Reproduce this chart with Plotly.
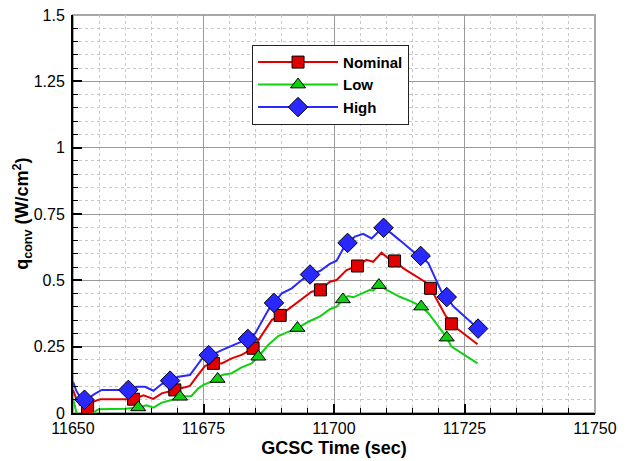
import plotly.graph_objects as go

# ---------------- data ----------------
blue_x = [11650.0, 11650.6, 11651.3, 11652.2, 11653.0, 11654.0, 11655.5, 11660.6, 11662.2, 11663.8,
          11665.4, 11667.0, 11668.6, 11670.2, 11672.4, 11674.0, 11674.6, 11676.0, 11677.2, 11678.5,
          11680.4, 11681.7, 11683.5, 11684.9, 11686.2, 11687.4, 11688.5, 11690.0, 11691.9, 11693.8,
          11695.4, 11697.3, 11699.2, 11700.5, 11701.8, 11702.6, 11704.0, 11705.6, 11707.2, 11708.5,
          11709.5, 11711.0, 11713.3, 11715.2, 11716.6, 11718.1, 11719.7, 11720.6, 11721.6, 11722.9,
          11725.4, 11727.6]
blue_y = [0.118, 0.085, 0.061, 0.050, 0.055, 0.070, 0.087, 0.087, 0.099, 0.099,
          0.084, 0.109, 0.122, 0.137, 0.143, 0.187, 0.202, 0.218, 0.225, 0.237,
          0.253, 0.265, 0.279, 0.300, 0.344, 0.388, 0.415, 0.451, 0.470, 0.501,
          0.522, 0.535, 0.562, 0.574, 0.621, 0.641, 0.665, 0.675, 0.658, 0.683,
          0.698, 0.677, 0.640, 0.608, 0.592, 0.564, 0.495, 0.457, 0.437, 0.401,
          0.357, 0.318]
blue_mx = [11652.2, 11660.6, 11668.6, 11676.0, 11683.5, 11688.5, 11695.4, 11702.6, 11709.5, 11716.6, 11721.6, 11727.6]
blue_my = [0.050, 0.087, 0.122, 0.218, 0.279, 0.415, 0.522, 0.641, 0.698, 0.592, 0.437, 0.318]

red_x = [11650.0, 11650.6, 11651.3, 11652.8, 11653.9, 11655.2, 11661.6, 11663.5, 11665.4, 11667.0,
         11669.5, 11672.4, 11673.7, 11675.3, 11676.9, 11678.5, 11680.4, 11682.3, 11684.5, 11686.2,
         11688.1, 11689.7, 11691.9, 11693.8, 11695.7, 11697.4, 11699.2, 11700.5, 11702.4, 11704.5,
         11706.2, 11707.5, 11709.1, 11710.4, 11711.6, 11713.3, 11715.8, 11717.4, 11718.5, 11719.7,
         11721.3, 11722.5, 11723.8, 11727.5]
red_y = [0.087, 0.055, 0.030, 0.020, 0.043, 0.052, 0.052, 0.067, 0.053, 0.074,
         0.087, 0.102, 0.137, 0.178, 0.187, 0.187, 0.206, 0.219, 0.244, 0.294,
         0.351, 0.368, 0.401, 0.426, 0.457, 0.464, 0.495, 0.501, 0.539, 0.554,
         0.577, 0.570, 0.604, 0.583, 0.573, 0.545, 0.514, 0.495, 0.470, 0.426,
         0.369, 0.336, 0.315, 0.259]
red_mx = [11652.8, 11661.6, 11669.5, 11676.9, 11684.5, 11689.7, 11697.4, 11704.5, 11711.6, 11718.5, 11722.5]
red_my = [0.020, 0.052, 0.087, 0.187, 0.244, 0.368, 0.464, 0.554, 0.573, 0.470, 0.336]

green_x = [11650.0, 11650.4, 11650.8, 11651.5, 11653.5, 11654.5, 11654.9, 11660.0, 11662.5, 11664.1,
           11665.4, 11667.0, 11668.9, 11670.5, 11672.7, 11674.0, 11675.0, 11677.7, 11678.5, 11680.4,
           11682.3, 11684.2, 11685.5, 11687.4, 11689.3, 11690.9, 11693.0, 11695.1, 11697.4, 11699.2,
           11700.5, 11701.7, 11702.7, 11703.7, 11705.6, 11706.9, 11707.5, 11708.6, 11710.1, 11712.6,
           11714.9, 11716.7, 11718.1, 11719.3, 11720.6, 11721.6, 11722.5, 11727.5]
green_y = [0.055, 0.020, -0.010, -0.030, -0.010, 0.010, 0.014, 0.016, 0.021, 0.029,
           0.020, 0.039, 0.049, 0.061, 0.064, 0.093, 0.106, 0.128, 0.143, 0.150,
           0.172, 0.187, 0.212, 0.256, 0.290, 0.303, 0.320, 0.344, 0.365, 0.391,
           0.401, 0.428, 0.441, 0.436, 0.453, 0.464, 0.461, 0.482, 0.464, 0.438,
           0.420, 0.401, 0.376, 0.344, 0.306, 0.284, 0.250, 0.187]
green_mx = [11662.5, 11670.5, 11677.7, 11685.5, 11693.0, 11701.7, 11708.6, 11716.7, 11721.6]
green_my = [0.021, 0.061, 0.128, 0.212, 0.320, 0.428, 0.482, 0.401, 0.284]

series_names = ["Nominal", "Low", "High"]
x_ticks = [11650, 11675, 11700, 11725, 11750]
y_ticks = [0, 0.25, 0.5, 0.75, 1, 1.25, 1.5]
y_ticktext = ["0", "0.25", "0.5", "0.75", "1", "1.25", "1.5"]

FONT = "Liberation Sans, Arial, sans-serif"
RED, GREEN, BLUE = "#E00000", "#10D010", "#2828FF"

fig = go.Figure()

specs = [
    (series_names[0], red_x, red_y, red_mx, red_my, RED, "square", 12),
    (series_names[1], green_x, green_y, green_mx, green_my, GREEN, "triangle-up", 13),
    (series_names[2], blue_x, blue_y, blue_mx, blue_my, BLUE, "diamond", 15),
]
for name, lx, ly, mx, my, col, sym, sz in specs:
    fig.add_trace(go.Scatter(x=lx, y=ly, mode="lines", line=dict(color=col, width=2),
                             showlegend=False, hoverinfo="skip", cliponaxis=True))
    fig.add_trace(go.Scatter(x=mx, y=my, mode="markers", showlegend=False,
                             marker=dict(symbol=sym, size=sz, color=col,
                                         line=dict(color="black", width=1)),
                             cliponaxis=False))
# legend entries
for name, lx, ly, mx, my, col, sym, sz in specs:
    fig.add_trace(go.Scatter(x=[None], y=[None], mode="lines+markers", name=name,
                             line=dict(color=col, width=2),
                             marker=dict(symbol=sym, size=sz, color=col,
                                         line=dict(color="black", width=1))))

fig.update_layout(
    width=627, height=461,
    margin=dict(l=73, r=32, t=15, b=48),
    paper_bgcolor="white", plot_bgcolor="white",
    font=dict(family=FONT, color="black", size=15),
    showlegend=True,
    legend=dict(x=0.343, y=0.925, xanchor="left", yanchor="top",
                bgcolor="white", bordercolor="#222222", borderwidth=1,
                font=dict(family=FONT, size=15, weight="bold", color="black"),
                itemwidth=80, tracegroupgap=0),
    xaxis=dict(range=[11650, 11750], tickvals=x_ticks, tickformat="d", automargin=False,
               showline=True, linecolor="black", linewidth=2,
               ticks="inside", ticklen=9, tickwidth=2, tickcolor="black",
               showgrid=True, gridcolor="#9a9a9a", gridwidth=1, zeroline=False,
               tickfont=dict(size=16), ticklabelstandoff=0,
               minor=dict(dtick=5, showgrid=True, gridcolor="#c8c8c8", griddash="dot",
                          ticks="inside", ticklen=5, tickcolor="black", tickwidth=1),
               title=dict(text="GCSC Time (sec)", font=dict(size=18, weight="bold"), standoff=5)),
    yaxis=dict(range=[0, 1.5], tickvals=y_ticks, ticktext=y_ticktext, automargin=False,
               showline=True, linecolor="black", linewidth=2,
               ticks="inside", ticklen=9, tickwidth=2, tickcolor="black",
               showgrid=True, gridcolor="#9a9a9a", gridwidth=1, zeroline=False,
               tickfont=dict(size=16), ticklabelstandoff=3,
               minor=dict(dtick=0.05, showgrid=True, gridcolor="#c8c8c8", griddash="dot",
                          ticks="inside", ticklen=5, tickcolor="black", tickwidth=1)),
    shapes=[dict(type="rect", xref="paper", yref="paper", x0=0, x1=1, y0=0, y1=1,
                 line=dict(color="#a8a8a8", width=2), layer="below")],
    annotations=[dict(text="<b>q<sub>conv</sub> (W/cm<sup>2</sup>)</b>", textangle=-90,
                      xref="paper", yref="paper", x=-0.098, y=0.5,
                      xanchor="center", yanchor="middle", showarrow=False,
                      font=dict(family=FONT, size=18, color="black"))],
)

fig.write_html("out.html")
